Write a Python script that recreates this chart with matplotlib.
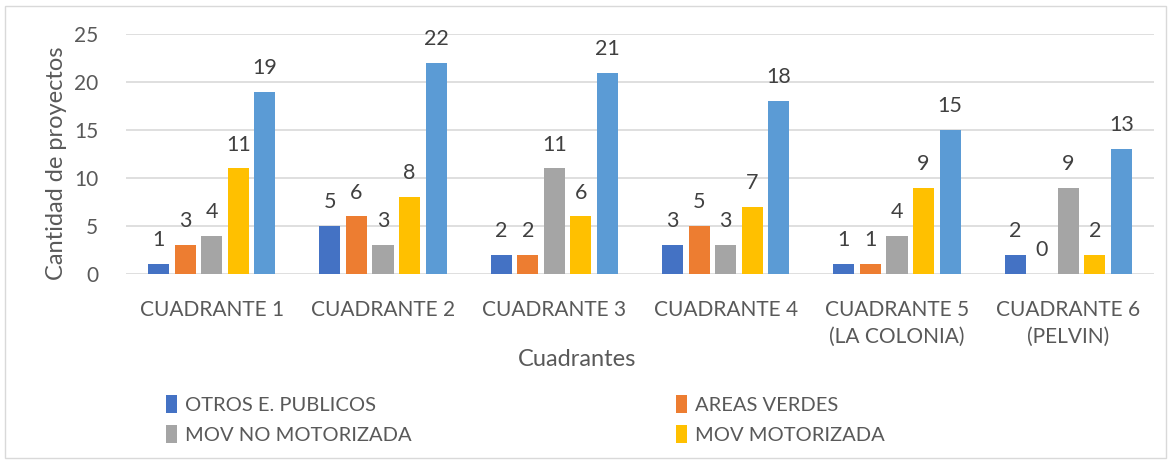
import numpy as np
import matplotlib.pyplot as plt
from matplotlib.patches import Rectangle

cuadrantes = ['CUADRANTE 1', 'CUADRANTE 2', 'CUADRANTE 3', 'CUADRANTE 4',
              'CUADRANTE 5\n(LA COLONIA)', 'CUADRANTE 6\n(PELVIN)']
otros_publicos = [1, 5, 2, 3, 1, 2]
areas_verdes = [3, 6, 2, 5, 1, 0]
mov_no_motorizada = [4, 3, 11, 3, 4, 9]
mov_motorizada = [11, 8, 6, 7, 9, 2]
total = [19, 22, 21, 18, 15, 13]

series = [
    ('OTROS E. PUBLICOS', otros_publicos, '#4472C4'),
    ('AREAS VERDES', areas_verdes, '#ED7D31'),
    ('MOV NO MOTORIZADA', mov_no_motorizada, '#A5A5A5'),
    ('MOV MOTORIZADA', mov_motorizada, '#FFC000'),
    ('_total', total, '#5B9BD5'),
]

txt = '#595959'
plt.rcParams['font.family'] = ['Lato', 'DejaVu Sans']

fig = plt.figure(figsize=(11.74, 4.62), dpi=100)
ax = fig.add_axes([0.1073, 0.407, 0.8757, 0.519])

x = np.arange(len(cuadrantes))
step = 0.155
width = 0.123
for i, (name, vals, col) in enumerate(series):
    pos = x + (i - 2) * step
    bars = ax.bar(pos, vals, width, color=col, label=name, zorder=3)
    for b, v in zip(bars, vals):
        ax.annotate(str(v), (b.get_x() + b.get_width() / 2, v),
                    xytext=(0, 10), textcoords='offset points',
                    ha='center', va='bottom', fontsize=15.5, color='#404040')

ax.set_ylim(0, 25)
ax.set_xlim(-0.5, len(cuadrantes) - 0.5)
ax.set_yticks(range(0, 26, 5))
ax.grid(axis='y', color='#D9D9D9', linewidth=1.2, zorder=0)
for s in ax.spines.values():
    s.set_visible(False)
ax.tick_params(length=0, colors=txt, labelsize=15)
ax.tick_params(axis='y', pad=20)
ax.tick_params(axis='x', pad=19)
ax.set_xticks(x)
ax.set_xticklabels(cuadrantes, linespacing=1.4)
ax.set_xlabel('Cuadrantes', fontsize=17, color=txt)
ax.xaxis.set_label_coords(0.439, -0.315)
ax.set_ylabel('Cantidad de proyectos', fontsize=17, color=txt)
ax.yaxis.set_label_coords(-0.057, 0.46)

# row-major order for the two-column legend
handles, labels = ax.get_legend_handles_labels()
order = [0, 2, 1, 3]
fig.legend([handles[k] for k in order], [labels[k] for k in order],
           loc='upper left', bbox_to_anchor=(0.126, 0.185),
           ncol=2, frameon=False, fontsize=14.5, labelcolor=txt,
           handlelength=0.55, handleheight=1.0, handletextpad=0.4,
           columnspacing=13.1, labelspacing=0.55)

fig.patches.append(Rectangle((0.004, 0.008), 0.989, 0.98, transform=fig.transFigure,
                             fill=False, edgecolor='#D9D9D9', linewidth=1))

fig.savefig('out.png', dpi=100)
